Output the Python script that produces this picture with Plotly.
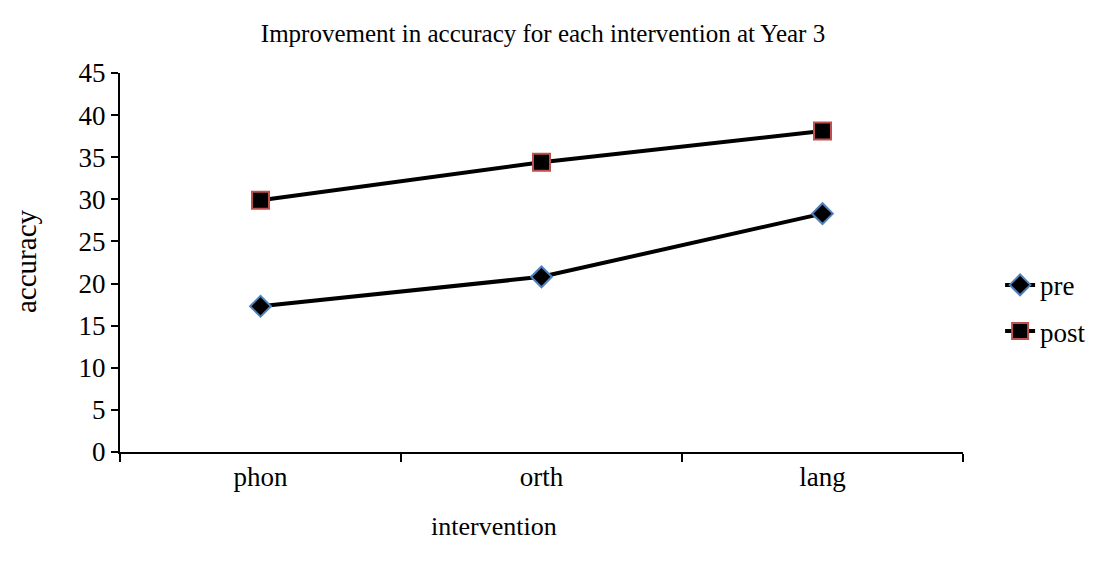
import plotly.graph_objects as go

categories = ["phon", "orth", "lang"]
pre_values = [17.3, 20.8, 28.3]
post_values = [29.9, 34.4, 38.1]
y_ticks = [0, 5, 10, 15, 20, 25, 30, 35, 40, 45]

tick_font = dict(family="Liberation Serif, serif", size=27, color="black")
title_font = dict(family="Liberation Serif, serif", size=25, color="black")

W, H = 1113, 565
L, R, T, B = 120, 150, 73, 113
PW, PH = W - L - R, H - T - B

fig = go.Figure()
fig.add_trace(go.Scatter(
    x=categories, y=pre_values, name="pre", mode="lines+markers", legendgroup="pre",
    line=dict(color="black", width=4),
    marker=dict(symbol="diamond", size=16, color="black", line=dict(color="#4F81BD", width=2)),
))
fig.add_trace(go.Scatter(
    x=categories, y=post_values, name="post", mode="lines+markers", legendgroup="post",
    line=dict(color="black", width=4),
    marker=dict(symbol="square", size=17, color="black", line=dict(color="#C0504D", width=2)),
))

fig.update_layout(
    width=W, height=H,
    margin=dict(l=L, r=R, t=T, b=B),
    paper_bgcolor="white", plot_bgcolor="white",
    title=dict(text="Improvement in accuracy for each intervention at Year 3",
               x=543 / W, xanchor="center", y=1 - 33 / H, yanchor="middle",
               font=title_font),
    xaxis=dict(
        type="category", range=[-0.5, 2.5], showline=True, linecolor="black", linewidth=2,
        ticks="outside", tickson="boundaries", ticklen=8, tickwidth=1.5, tickcolor="black",
        showgrid=False, tickfont=tick_font,
    ),
    yaxis=dict(
        range=[0, 45], tickvals=y_ticks, showline=True, linecolor="black", linewidth=2,
        ticks="outside", ticklen=7, tickwidth=1.5, tickcolor="black",
        showgrid=False, zeroline=False, tickfont=tick_font,
    ),
    legend=dict(x=1.044, xanchor="left", y=0.379, yanchor="middle",
                font=tick_font, tracegroupgap=8, itemwidth=30,
                bgcolor="rgba(0,0,0,0)"),
    showlegend=True,
    annotations=[
        dict(text="intervention", xref="paper", yref="paper",
             x=(494 - L) / PW, y=-(526 - (T + PH)) / PH, xanchor="center", yanchor="middle",
             showarrow=False, font=dict(family="Liberation Serif, serif", size=26, color="black")),
        dict(text="accuracy", xref="paper", yref="paper", textangle=-90,
             x=-(L - 26) / PW, y=(T + PH - 261) / PH, xanchor="center", yanchor="middle",
             showarrow=False, font=dict(family="Liberation Serif, serif", size=29, color="black")),
    ],
)

fig.write_html("out.html")
